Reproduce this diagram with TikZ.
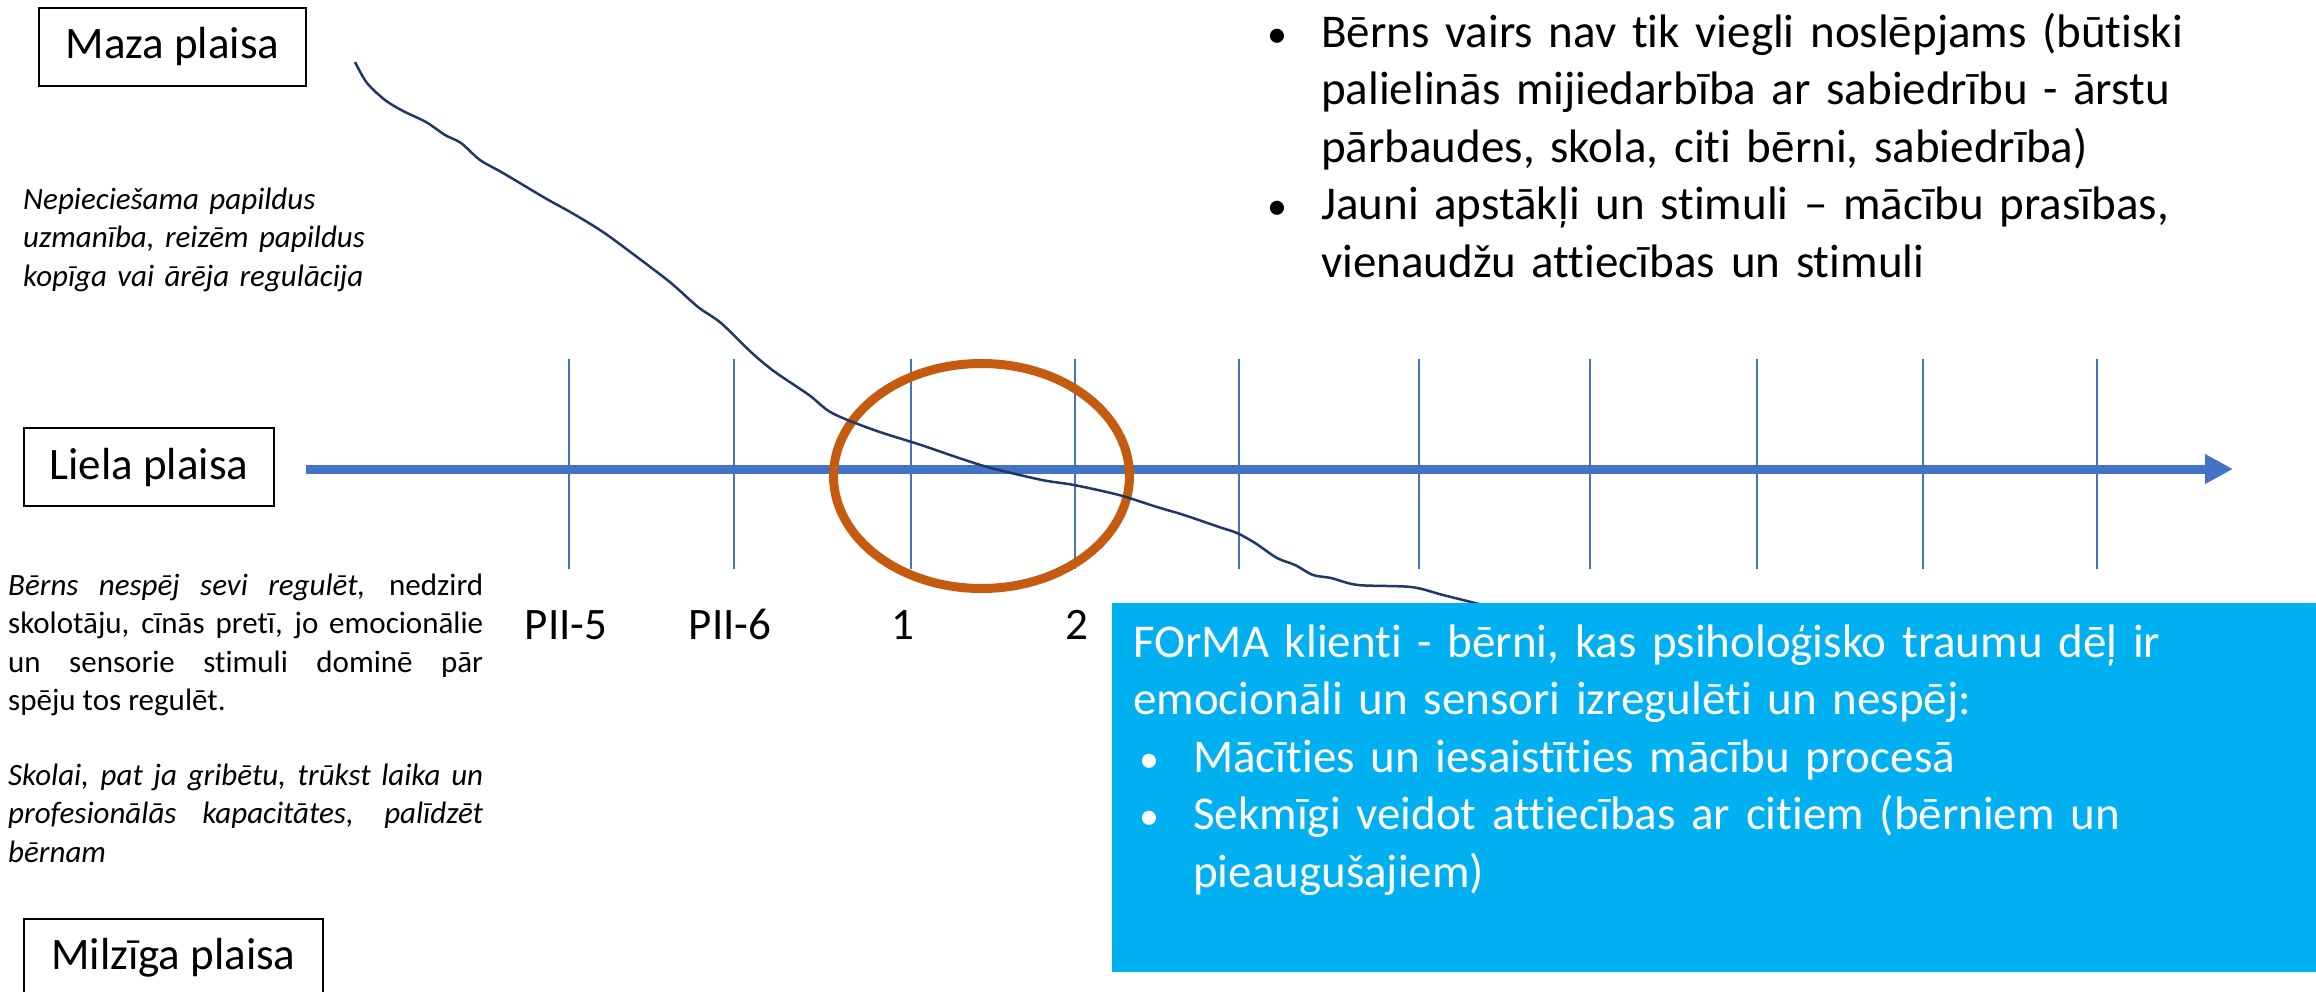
\documentclass[tikz,border=0pt]{standalone}
\usepackage{fontspec}
\setmainfont{Carlito}[Ligatures={NoCommon,NoContextual}, RawFeature=-calt]
\usetikzlibrary{arrows.meta}
\definecolor{axisblue}{HTML}{4472C4}
\definecolor{ringorange}{HTML}{C55A11}
\definecolor{curvenavy}{HTML}{1F3864}
\definecolor{formablue}{HTML}{00B0F0}
\newcommand{\smallbullet}{\scalebox{0.85}{\textbullet}}

\begin{document}
\begin{tikzpicture}[x=1pt, y=-1pt,
    gapbox/.style={draw=black, line width=2pt, minimum height=78pt, inner sep=0pt,
      font=\fontsize{45}{54}\selectfont},
    ticklabel/.style={anchor=base, inner sep=0pt, font=\fontsize{45}{54}\selectfont},
    note/.style={anchor=base west, inner sep=0pt, font=\fontsize{31}{38.5}\selectfont},
    italicnote/.style={note, font=\fontsize{31}{38.5}\selectfont\itshape},
    bigtext/.style={anchor=base west, inner sep=0pt, align=left,
      font=\fontsize{47}{57.5}\selectfont}]
  \useasboundingbox (0,0) rectangle (2316,991);

  % Gap boxes
  \node[gapbox, minimum width=267pt] (maza) at (172.5,46.5) {Maza plaisa};
  \node[gapbox, minimum width=250pt] (liela) at (149,467) {Liela plaisa};
  \node[gapbox, minimum width=299pt] (milziga) at (173.5,958) {Milzīga plaisa};

  % Notes on the left
  \node[italicnote, text width=420pt, align=left] (papildus) at (23,209)
    {Nepieciešama papildus\\ uzmanība, reizēm papildus\\ kopīga vai ārēja regulācija};
  \node[note, text width=475pt, align=justify] (nespej) at (8,595)
    {\textit{Bērns nespēj sevi regulēt,} nedzird\linebreak
     skolotāju, cīnās pretī, jo emocionālie\linebreak
     un sensorie stimuli dominē pār\linebreak
     spēju tos regulēt.};
  \node[italicnote, text width=475pt, align=justify] (skola) at (8,785)
    {Skolai, pat ja gribētu, trūkst laika un\linebreak
     profesionālās kapacitātes, palīdzēt\linebreak
     bērnam};

  % Time axis
  \coordinate (axisstart) at (306,469);
  \coordinate (axisend) at (2233,469);
  \draw[axisblue, line width=9pt, -{Triangle[length=28pt,width=28pt]}] (axisstart) -- (axisend);
  \foreach \x in {569,734,911,1075,1239,1419,1590,1757,1923,2097}
    \draw[axisblue, line width=2pt] (\x,359) -- (\x,569);
  \foreach \x/\lbl in {566/PII-5, 730/PII-6, 903/1, 1077/2}
    \node[ticklabel] (lbl\x) at (\x,639) {\lbl};

  % Focus ring
  \draw[ringorange, line width=9pt] (981.5,476) ellipse [x radius=148pt, y radius=112.5pt];

  % Gap curve
  \draw[curvenavy, line width=2.5pt] plot[smooth, tension=0.5] coordinates {
    (355,62) (367,83) (385,100) (403,111) (426,122) (445,135) (461,143) (480,160)
    (503,173) (545,198) (572,213) (603,232) (637,257) (671,283) (698,307) (721,323)
    (752,353) (775,372) (809,395) (832,413) (874,430) (921,445) (959,458) (991,468)
    (1042,480) (1074,485) (1119,495) (1157,507) (1184,515) (1219,527) (1237,533)
    (1255,543) (1277,558) (1295,565) (1313,575) (1331,578) (1358,585) (1411,587)
    (1443,595) (1483,605)};

  % School age bullets
  \node[bigtext, text width=1000pt] (skolasvecums) at (1267,47)
    {\makebox[54pt][l]{\smallbullet}Bērns vairs nav tik viegli noslēpjams (būtiski\\
     \hspace*{54pt}palielinās mijiedarbība ar sabiedrību - ārstu\\
     \hspace*{54pt}pārbaudes, skola, citi bērni, sabiedrība)\\
     \makebox[54pt][l]{\smallbullet}Jauni apstākļi un stimuli – mācību prasības,\\
     \hspace*{54pt}vienaudžu attiecības un stimuli};

  % FOrMA clients
  \node[fill=formablue, minimum width=1204pt, minimum height=369pt, inner sep=0pt,
    anchor=north west] (forma) at (1112,603) {};
  \node[bigtext, text width=1160pt, text=white] (formateksts) at (1133,657)
    {FOrMA klienti - bērni, kas psiholoģisko traumu dēļ ir\\
     emocionāli un sensori izregulēti un nespēj:\\
     \makebox[60pt][l]{\hspace{6pt}\smallbullet}Mācīties un iesaistīties mācību procesā\\
     \makebox[60pt][l]{\hspace{6pt}\smallbullet}Sekmīgi veidot attiecības ar citiem (bērniem un\\
     \hspace*{60pt}pieaugušajiem)};
\end{tikzpicture}
\end{document}
